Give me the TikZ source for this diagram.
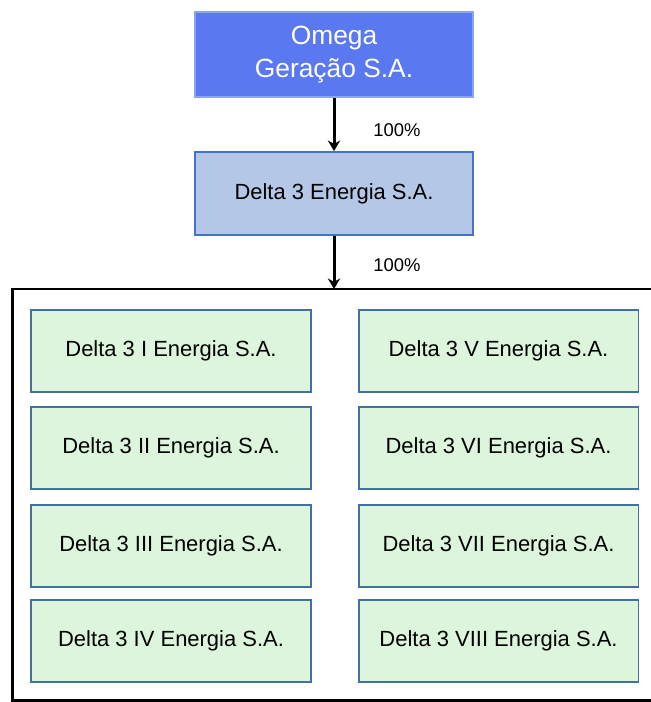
\documentclass[tikz,border=0pt]{standalone}
\usepackage{fontspec}
\setmainfont{Liberation Sans}
\usetikzlibrary{arrows.meta}
\usetikzlibrary{positioning}

\begin{document}
\begin{tikzpicture}
            [x=0.02cm, y=-0.02cm,
            box/.style={draw, line width=1.1pt, inner sep=0pt, align=center,
                        font=\fontsize{12.5}{15}\selectfont},
            parent/.style={box, fill=parentfill, draw=parentborder, text=white,
                        minimum width=5.56cm, minimum height=1.7cm,
                        font=\fontsize{15}{18.5}\selectfont},
            holding/.style={box, fill=holdingfill, draw=holdingborder,
                        minimum width=5.56cm, minimum height=1.66cm},
            spv/.style={box, fill=spvfill, draw=spvborder,
                        minimum width=5.6cm, minimum height=1.64cm},
            share/.style={font=\fontsize{10.5}{12}\selectfont},
            link/.style={line width=1.7pt, -{Stealth[length=6pt, width=7pt]}},
            ]
            \definecolor{parentfill}{HTML}{5A78EF}
            \definecolor{parentborder}{HTML}{8CA4F5}
            \definecolor{holdingfill}{HTML}{B4C7E7}
            \definecolor{holdingborder}{HTML}{4472C4}
            \definecolor{spvfill}{HTML}{DCF5DC}
            \definecolor{spvborder}{HTML}{41719C}
            \useasboundingbox (0,0) rectangle (651,702);
            \clip (0,0) rectangle (651,702);

            % group structure
            \node[parent] (omega) at (334,54.5) {Omega\\Geração S.A.};
            \node[holding] (delta) at (334,193.5) {Delta 3 Energia S.A.};

            % box holding the eight companies
            \draw[line width=1.3pt] (660,289) -- (12.5,289) -- (12.5,700.5) -- (660,700.5);
            \coordinate (group) at (334,289);

            \begin{scope}[shift={(171,0)}]
                \node[spv] (d1) at (0,351) {Delta 3 I Energia S.A.};
                \node[spv] (d2) at (0,448) {Delta 3 II Energia S.A.};
                \node[spv] (d3) at (0,546) {Delta 3 III Energia S.A.};
                \node[spv] (d4) at (0,641) {Delta 3 IV Energia S.A.};
            \end{scope}
            \begin{scope}[shift={(498.5,0)}]
                \node[spv] (d5) at (0,351) {Delta 3 V Energia S.A.};
                \node[spv] (d6) at (0,448) {Delta 3 VI Energia S.A.};
                \node[spv] (d7) at (0,546) {Delta 3 VII Energia S.A.};
                \node[spv] (d8) at (0,641) {Delta 3 VIII Energia S.A.};
            \end{scope}

            \draw[link] (omega) -- (delta);
            \draw[link] (delta) -- (group);
            \node[share] (s1) at (397,130) {100\%};
            \node[share] (s2) at (397,265) {100\%};
\end{tikzpicture}
\end{document}
